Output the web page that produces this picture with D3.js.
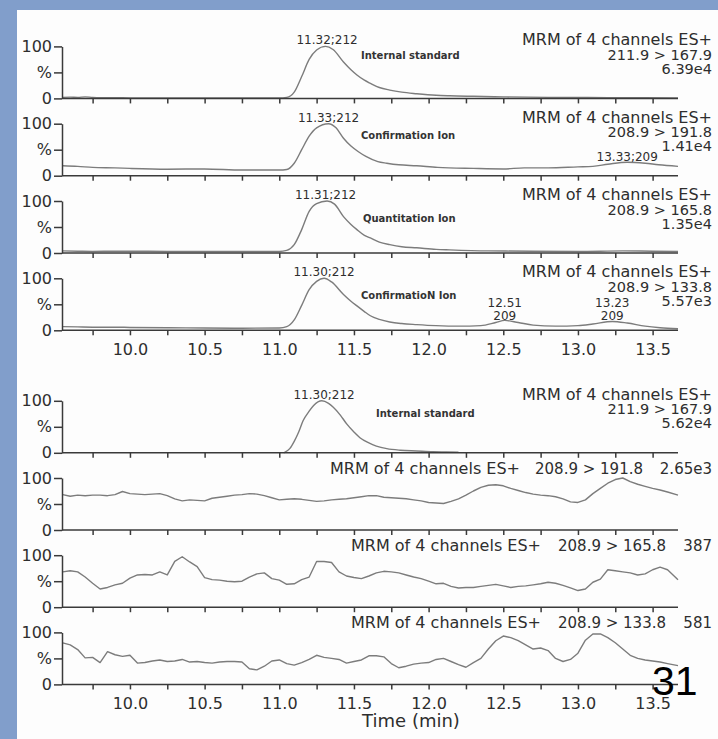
<!DOCTYPE html>
<html>
<head>
<meta charset="utf-8">
<script src="https://cdn.jsdelivr.net/npm/d3@7"></script>
<style>
  body { margin: 0; background: #fff; }
  svg { display: block; }
  text { font-family: "DejaVu Sans", Verdana, sans-serif; fill: #2e2e2e; }
</style>
</head>
<body>
<div id="chart"></div>
<script>
// ---- data (% of each trace's max) ----

// top group: standard + sample ions
var p1T = [9.55, 9.6, 9.65, 9.7, 9.75, 9.8, 9.9, 10.0, 10.25, 10.5, 10.75, 11.0, 11.05, 11.1, 11.15, 11.2, 11.25, 11.31, 11.36, 11.43, 11.48, 11.52, 11.57, 11.61, 11.67, 11.74, 11.82, 11.92, 12.05, 12.14, 12.3, 12.5, 12.8, 13.2, 13.67];
var p1V = [2, 2.5, 2, 3, 2, 1.5, 1.5, 1, 1, 1, 1, 1, 2, 12, 42, 75, 93, 100, 94, 70, 55, 45, 35, 29, 21, 16, 12, 9, 6, 5, 4, 3, 2, 1.5, 1];

var p2T = [9.55, 9.65, 9.75, 9.9, 10.0, 10.25, 10.5, 10.75, 11.0, 11.05, 11.1, 11.15, 11.2, 11.25, 11.33, 11.38, 11.43, 11.48, 11.53, 11.58, 11.66, 11.72, 11.8, 11.92, 12.06, 12.3, 12.5, 12.64, 12.8, 13.0, 13.1, 13.2, 13.33, 13.45, 13.54, 13.67];
var p2V = [19, 18, 16, 15, 14, 12.5, 13, 11, 11, 12, 24, 50, 76, 92, 100, 92, 72, 57, 46, 37, 27, 24, 21, 19, 16, 14, 13, 15, 15, 17, 18, 22, 26, 24, 21, 18];

var p3T = [9.55, 9.65, 9.75, 9.9, 10.0, 10.25, 10.5, 10.75, 11.0, 11.05, 11.1, 11.15, 11.2, 11.25, 11.32, 11.37, 11.43, 11.48, 11.52, 11.57, 11.61, 11.67, 11.74, 11.82, 11.92, 12.05, 12.14, 12.4, 12.7, 13.0, 13.3, 13.5, 13.67];
var p3V = [4, 3.5, 3, 3.5, 3.5, 3, 3, 3, 3, 5, 16, 45, 80, 95, 100, 94, 70, 55, 45, 34, 29, 21, 16, 12, 10, 7, 6, 4, 3.5, 3, 4, 3.5, 3];

var p4T = [9.55, 9.65, 9.75, 9.9, 10.0, 10.25, 10.5, 10.75, 11.0, 11.05, 11.1, 11.15, 11.2, 11.25, 11.3, 11.35, 11.43, 11.48, 11.52, 11.57, 11.61, 11.67, 11.74, 11.82, 11.92, 12.05, 12.2, 12.35, 12.45, 12.51, 12.6, 12.7, 12.85, 13.0, 13.1, 13.23, 13.33, 13.45, 13.55, 13.67];
var p4V = [7, 6.5, 6, 6, 5.5, 5, 4.5, 4, 4.5, 7, 20, 48, 78, 94, 100, 93, 69, 56, 47, 36, 28, 21, 16, 13, 11, 9, 8, 9, 15, 19, 15, 10, 8, 9, 12, 17, 14, 8, 5, 3];

// bottom group: standard + blank ions
var p5T = [11.03, 11.07, 11.1, 11.13, 11.16, 11.2, 11.23, 11.285, 11.33, 11.36, 11.41, 11.45, 11.5, 11.54, 11.6, 11.65, 11.72, 11.81, 11.92, 12.03, 12.12, 12.2];
var p5V = [0, 8, 22, 40, 62, 80, 91, 100, 95, 88, 72, 56, 40, 29, 19, 13, 8, 5, 3.5, 2, 1.5, 1];

var noiseT = [9.55, 9.60, 9.65, 9.70, 9.75, 9.80, 9.85, 9.90, 9.95, 10.00,
  10.05, 10.10, 10.15, 10.20, 10.25, 10.30, 10.35, 10.40, 10.45, 10.50,
  10.55, 10.60, 10.65, 10.70, 10.75, 10.80, 10.85, 10.90, 10.95, 11.00,
  11.05, 11.10, 11.15, 11.20, 11.25, 11.30, 11.35, 11.40, 11.45, 11.50,
  11.55, 11.60, 11.65, 11.70, 11.75, 11.80, 11.85, 11.90, 11.95, 12.00,
  12.05, 12.10, 12.15, 12.20, 12.25, 12.30, 12.35, 12.40, 12.45, 12.50,
  12.55, 12.60, 12.65, 12.70, 12.75, 12.80, 12.85, 12.90, 12.95, 13.00,
  13.05, 13.10, 13.15, 13.20, 13.25, 13.30, 13.35, 13.40, 13.45, 13.50,
  13.55, 13.60, 13.67];
var p6V = [68, 65, 67, 66, 67, 67, 66, 68, 74, 70,
  69, 68, 69, 70, 66, 60, 56, 58, 57, 56,
  61, 63, 65, 67, 68, 70, 69, 66, 62, 58,
  59, 60, 59, 57, 55, 56, 58, 59, 60, 62,
  64, 66, 66, 63, 62, 61, 60, 58, 56, 53,
  52, 51, 55, 60, 67, 75, 82, 86, 87, 85,
  80, 76, 72, 69, 67, 66, 64, 60, 54, 53,
  58, 70, 80, 90, 97, 100, 93, 88, 84, 80,
  77, 73, 67];
var p7V = [68, 70, 68, 58, 46, 35, 38, 43, 46, 56,
  62, 63, 62, 68, 62, 88, 97, 87, 78, 57,
  53, 52, 50, 49, 50, 58, 64, 66, 55, 52,
  44, 45, 53, 58, 88, 88, 86, 68, 60, 57,
  55, 60, 66, 69, 68, 66, 62, 58, 55, 50,
  45, 46, 40, 37, 38, 38, 40, 42, 44, 41,
  38, 40, 41, 43, 45, 48, 46, 42, 37, 32,
  35, 48, 54, 72, 70, 68, 66, 62, 64, 72,
  77, 72, 53];
var p8V = [80, 76, 67, 51, 52, 42, 63, 57, 54, 56,
  41, 42, 45, 47, 44, 45, 48, 43, 44, 42,
  41, 43, 44, 44, 43, 30, 28, 35, 45, 47,
  40, 37, 42, 48, 56, 52, 50, 48, 41, 44,
  47, 55, 55, 53, 40, 32, 35, 39, 41, 42,
  48, 50, 44, 38, 33, 42, 50, 68, 84, 93,
  90, 84, 76, 68, 70, 65, 50, 44, 48, 60,
  85, 97, 97, 90, 80, 68, 56, 50, 47, 45,
  43, 40, 36];

// texts
var channelLabel = "MRM of 4 channels ES+";
var transitions = ["211.9 > 167.9", "208.9 > 191.8", "208.9 > 165.8", "208.9 > 133.8",
                   "211.9 > 167.9", "208.9 > 191.8", "208.9 > 165.8", "208.9 > 133.8"];
var intensities = ["6.39e4", "1.41e4", "1.35e4", "5.57e3", "5.62e4", "2.65e3", "387", "581"];
var ionNames = ["Internal standard", "Confirmation Ion", "Quantitation Ion", "ConfirmatioN Ion", "Internal standard"];
var peakTimes = [11.32, 11.33, 11.31, 11.30, 11.30];
var peakMass = [212, 212, 212, 212, 212];
var tickVals = [9.75, 10.0, 10.25, 10.5, 10.75, 11.0, 11.25, 11.5, 11.75, 12.0, 12.25, 12.5, 12.75, 13.0, 13.25, 13.5];
var tickLabels = [10.0, 10.5, 11.0, 11.5, 12.0, 12.5, 13.0, 13.5];

// ---- chart ----
var width = 718, height = 739;
var svg = d3.select("#chart").append("svg")
    .attr("width", width)
    .attr("height", height);

// slide background
svg.append("rect").attr("width", width).attr("height", height).attr("fill", "#819ecb");
svg.append("rect").attr("x", 17).attr("y", 10)
    .attr("width", width - 17).attr("height", height - 10).attr("fill", "#fdfdfd");

var x = d3.scaleLinear().domain([9.545, 13.67]).range([62, 678]);
var panelH = 52;

var panels = [
  {t: p1T, v: p1V, zero: 98.4, smooth: true},
  {t: p2T, v: p2V, zero: 175.7, smooth: true},
  {t: p3T, v: p3V, zero: 253.0, smooth: true},
  {t: p4T, v: p4V, zero: 330.3, smooth: true, labels: true},
  {t: p5T, v: p5V, zero: 452.8, smooth: true},
  {t: noiseT, v: p6V, zero: 530.0},
  {t: noiseT, v: p7V, zero: 607.2},
  {t: noiseT, v: p8V, zero: 684.4, labels: true}
];

panels.forEach(function(p, i) {
  var y = d3.scaleLinear().domain([0, 100]).range([p.zero, p.zero - panelH]);
  var g = svg.append("g");

  // trace
  var line = d3.line()
      .x(function(d) { return x(d[0]); })
      .y(function(d) { return y(d[1]); })
      .curve(p.smooth ? d3.curveMonotoneX : d3.curveLinear);
  g.append("path")
      .datum(d3.zip(p.t, p.v))
      .attr("d", line)
      .attr("fill", "none")
      .attr("stroke", "#7c7c7c")
      .attr("stroke-width", 1.4)
      .attr("stroke-linejoin", "round");

  // x axis
  var xa = g.append("g")
      .attr("transform", "translate(0," + p.zero + ")")
      .call(d3.axisBottom(x)
        .tickValues(tickVals)
        .tickSize(5)
        .tickSizeOuter(0)
        .tickPadding(8)
        .tickFormat(function(d) {
          return (p.labels && tickLabels.indexOf(d) >= 0) ? d.toFixed(1) : "";
        }));
  xa.select(".domain").attr("d", "M62,0H678");

  // y axis
  var ya = g.append("g")
      .attr("transform", "translate(62,0)")
      .call(d3.axisLeft(y)
        .tickValues([0, 50, 100])
        .tickSize(8)
        .tickSizeOuter(0)
        .tickPadding(2)
        .tickFormat(function(d) { return d === 50 ? "%" : d; }));

  [xa, ya].forEach(function(a) {
    a.selectAll("path, line").attr("stroke", "#3a3a3a").attr("stroke-width", 1.5);
    a.selectAll("text").style("font-size", "16px").attr("fill", "#2e2e2e")
      .style("font-family", "'DejaVu Sans', sans-serif");
  });

  // headers
  if (i < 5) {
    var hdr = [channelLabel, transitions[i], intensities[i]];
    var offs = [-53, -38.5, -24.5];
    hdr.forEach(function(s, k) {
      g.append("text")
        .attr("x", 712).attr("y", p.zero + offs[k])
        .attr("text-anchor", "end")
        .style("font-size", k === 0 ? "16px" : "14.5px")
        .text(s);
    });
    g.append("text")
      .attr("x", x(peakTimes[i])).attr("y", p.zero - 54)
      .attr("text-anchor", "middle")
      .style("font-size", "12px")
      .text(peakTimes[i].toFixed(2) + ";" + peakMass[i]);
    var nameOff = [-39, -36.5, -31, -31, -35.5];
    var nameX = [361, 361, 363, 361, 376];
    g.append("text")
      .attr("x", nameX[i]).attr("y", p.zero + nameOff[i])
      .style("font-size", "10px")
      .style("font-weight", "bold")
      .attr("fill", "#333")
      .style("fill", "#333")
      .text(ionNames[i]);
  } else {
    var ends = i === 5 ? [520, 643, 712] : [541, 666, 712];
    [channelLabel, transitions[i], intensities[i]].forEach(function(s, k) {
      g.append("text")
        .attr("x", ends[k]).attr("y", p.zero - 56)
        .attr("text-anchor", "end")
        .style("font-size", k === 0 ? "16px" : "15px")
        .text(s);
    });
  }
});

// small peak annotations
function annot(i, t, lines, off) {
  var p = panels[i];
  lines.forEach(function(s, k) {
    svg.append("text")
      .attr("x", x(t)).attr("y", p.zero + off + k * 13)
      .attr("text-anchor", "middle")
      .style("font-size", "12px")
      .text(s);
  });
}
annot(1, 13.33, ["13.33;209"], -15);
annot(3, 12.51, ["12.51", "209"], -23);
annot(3, 13.23, ["13.23", "209"], -23);

svg.append("text")
    .attr("x", 411).attr("y", 727)
    .attr("text-anchor", "middle")
    .style("font-size", "18px")
    .text("Time (min)");

// slide number
svg.append("text")
    .attr("x", 652).attr("y", 695)
    .style("font-family", "'Liberation Sans', Arial, sans-serif")
    .style("font-size", "41px")
    .style("fill", "#000")
    .text("31");
</script>
</body>
</html>
